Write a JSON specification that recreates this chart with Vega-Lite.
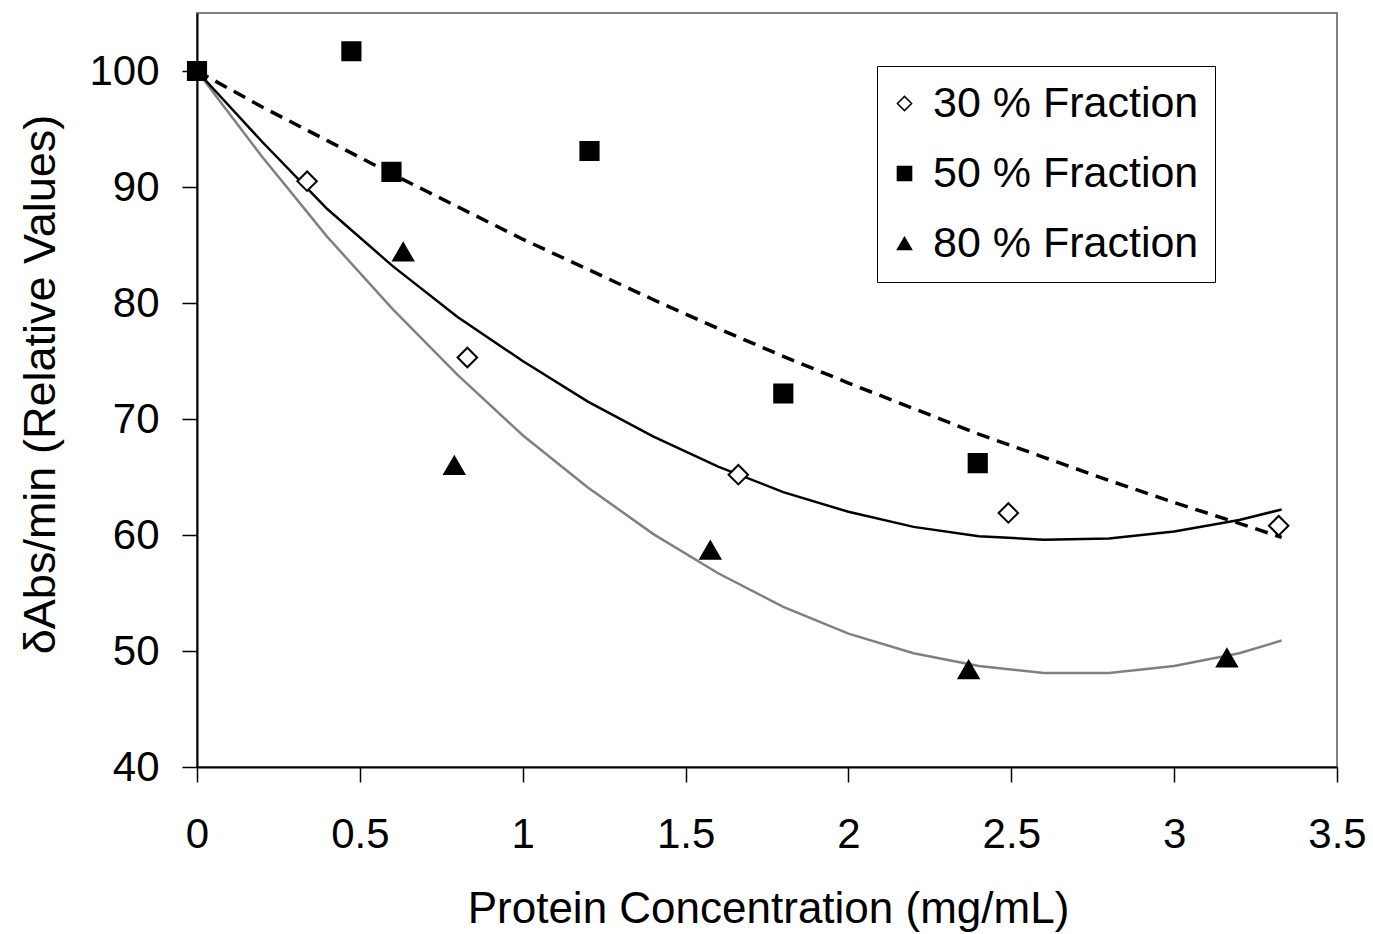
{
  "$schema": "https://vega.github.io/schema/vega-lite/v6.json",
  "width": 1140,
  "height": 754,
  "autosize": {"type": "none"},
  "padding": {"left": 197, "top": 13, "right": 36, "bottom": 167},
  "background": "white",
  "config": {
    "font": "Liberation Sans",
    "view": {"stroke": "#808080", "strokeWidth": 2},
    "axis": {
      "grid": false,
      "domainColor": "black",
      "domainWidth": 2,
      "tickColor": "black",
      "tickWidth": 1.5,
      "tickSize": 15,
      "labelFont": "Liberation Sans",
      "labelFontSize": 42,
      "labelColor": "black",
      "labelFlush": false,
      "labelBound": false,
      "labelOverlap": false,
      "titleFont": "Liberation Sans",
      "titleFontSize": 44,
      "titleFontWeight": "normal",
      "titleColor": "black"
    },
    "legend": {
      "orient": "none",
      "legendX": 680,
      "legendY": 53,
      "padding": 16,
      "rowPadding": 26,
      "labelOffset": 7,
      "symbolOffset": -10,
      "labelFont": "Liberation Sans",
      "labelFontSize": 43,
      "labelColor": "black",
      "labelLimit": 500,
      "strokeColor": "black",
      "fillColor": "white",
      "symbolSize": 200,
      "symbolOpacity": 1
    }
  },
  "datasets": {
    "points": [
      {"series": "30 % Fraction", "conc": 0.338, "rel": 90.5},
      {"series": "30 % Fraction", "conc": 0.83, "rel": 75.3},
      {"series": "30 % Fraction", "conc": 1.662, "rel": 65.2},
      {"series": "30 % Fraction", "conc": 2.491, "rel": 61.9},
      {"series": "30 % Fraction", "conc": 3.321, "rel": 60.8},
      {"series": "50 % Fraction", "conc": 0, "rel": 100},
      {"series": "50 % Fraction", "conc": 0.474, "rel": 101.7},
      {"series": "50 % Fraction", "conc": 0.597, "rel": 91.3},
      {"series": "50 % Fraction", "conc": 1.205, "rel": 93.1},
      {"series": "50 % Fraction", "conc": 1.8, "rel": 72.2},
      {"series": "50 % Fraction", "conc": 2.397, "rel": 66.2},
      {"series": "80 % Fraction", "conc": 0.633, "rel": 84.4},
      {"series": "80 % Fraction", "conc": 0.79, "rel": 66.0},
      {"series": "80 % Fraction", "conc": 1.576, "rel": 58.7},
      {"series": "80 % Fraction", "conc": 2.369, "rel": 48.4},
      {"series": "80 % Fraction", "conc": 3.162, "rel": 49.4}
    ],
    "trends": [
      {"fit": "30", "conc": 0, "rel": 100},
      {"fit": "30", "conc": 0.2, "rel": 93.9},
      {"fit": "30", "conc": 0.4, "rel": 88.1},
      {"fit": "30", "conc": 0.6, "rel": 83.2},
      {"fit": "30", "conc": 0.8, "rel": 78.8},
      {"fit": "30", "conc": 1.0, "rel": 75.0},
      {"fit": "30", "conc": 1.2, "rel": 71.5},
      {"fit": "30", "conc": 1.4, "rel": 68.5},
      {"fit": "30", "conc": 1.6, "rel": 65.9},
      {"fit": "30", "conc": 1.8, "rel": 63.7},
      {"fit": "30", "conc": 2.0, "rel": 62.0},
      {"fit": "30", "conc": 2.2, "rel": 60.7},
      {"fit": "30", "conc": 2.4, "rel": 59.9},
      {"fit": "30", "conc": 2.6, "rel": 59.6},
      {"fit": "30", "conc": 2.8, "rel": 59.7},
      {"fit": "30", "conc": 3.0, "rel": 60.3},
      {"fit": "30", "conc": 3.2, "rel": 61.3},
      {"fit": "30", "conc": 3.33, "rel": 62.2},
      {"fit": "50", "conc": 0, "rel": 100},
      {"fit": "50", "conc": 0.2, "rel": 96.9},
      {"fit": "50", "conc": 0.4, "rel": 94.0},
      {"fit": "50", "conc": 0.6, "rel": 91.1},
      {"fit": "50", "conc": 0.8, "rel": 88.3},
      {"fit": "50", "conc": 1.0, "rel": 85.5},
      {"fit": "50", "conc": 1.2, "rel": 82.9},
      {"fit": "50", "conc": 1.4, "rel": 80.3},
      {"fit": "50", "conc": 1.6, "rel": 77.8},
      {"fit": "50", "conc": 1.8, "rel": 75.4},
      {"fit": "50", "conc": 2.0, "rel": 73.1},
      {"fit": "50", "conc": 2.2, "rel": 70.9},
      {"fit": "50", "conc": 2.4, "rel": 68.7},
      {"fit": "50", "conc": 2.6, "rel": 66.7},
      {"fit": "50", "conc": 2.8, "rel": 64.7},
      {"fit": "50", "conc": 3.0, "rel": 62.8},
      {"fit": "50", "conc": 3.2, "rel": 61.0},
      {"fit": "50", "conc": 3.33, "rel": 59.8},
      {"fit": "80", "conc": 0, "rel": 100},
      {"fit": "80", "conc": 0.2, "rel": 92.6},
      {"fit": "80", "conc": 0.4, "rel": 85.7},
      {"fit": "80", "conc": 0.6, "rel": 79.5},
      {"fit": "80", "conc": 0.8, "rel": 73.8},
      {"fit": "80", "conc": 1.0, "rel": 68.6},
      {"fit": "80", "conc": 1.2, "rel": 64.1},
      {"fit": "80", "conc": 1.4, "rel": 60.1},
      {"fit": "80", "conc": 1.6, "rel": 56.7},
      {"fit": "80", "conc": 1.8, "rel": 53.8},
      {"fit": "80", "conc": 2.0, "rel": 51.5},
      {"fit": "80", "conc": 2.2, "rel": 49.8},
      {"fit": "80", "conc": 2.4, "rel": 48.7},
      {"fit": "80", "conc": 2.6, "rel": 48.1},
      {"fit": "80", "conc": 2.8, "rel": 48.1},
      {"fit": "80", "conc": 3.0, "rel": 48.7},
      {"fit": "80", "conc": 3.2, "rel": 49.8},
      {"fit": "80", "conc": 3.33, "rel": 50.9}
    ]
  },
  "encoding": {
    "x": {
      "field": "conc",
      "type": "quantitative",
      "scale": {"domain": [0, 3.5], "nice": false, "zero": false},
      "axis": {
        "title": "Protein Concentration (mg/mL)",
        "values": [0, 0.5, 1, 1.5, 2, 2.5, 3, 3.5],
        "format": "~f",
        "labelPadding": 32,
        "titleX": 571,
        "titleY": 155,
        "titleBaseline": "alphabetic",
        "titleAlign": "center"
      }
    },
    "y": {
      "field": "rel",
      "type": "quantitative",
      "scale": {"domain": [40, 105], "nice": false, "zero": false},
      "axis": {
        "title": "δAbs/min (Relative Values)",
        "values": [40, 50, 60, 70, 80, 90, 100],
        "format": "d",
        "labelPadding": 23,
        "titleAngle": -90,
        "titleFontSize": 45,
        "titleX": -157,
        "titleY": 371,
        "titleBaseline": "middle",
        "titleAlign": "center"
      }
    }
  },
  "layer": [
    {
      "data": {"name": "trends"},
      "transform": [{"filter": "datum.fit === '80'"}],
      "mark": {"type": "line", "stroke": "#808080", "strokeWidth": 2.5},
      "encoding": {}
    },
    {
      "data": {"name": "trends"},
      "transform": [{"filter": "datum.fit === '30'"}],
      "mark": {"type": "line", "stroke": "black", "strokeWidth": 2.5},
      "encoding": {}
    },
    {
      "data": {"name": "trends"},
      "transform": [{"filter": "datum.fit === '50'"}],
      "mark": {"type": "line", "stroke": "black", "strokeWidth": 3.5, "strokeDash": [13, 8], "strokeCap": "butt"},
      "encoding": {}
    },
    {
      "data": {"name": "points"},
      "transform": [{"filter": "datum.series === '30 % Fraction'"}],
      "mark": {"type": "point", "filled": true, "opacity": 1, "stroke": "black", "strokeWidth": 2, "size": 380},
      "encoding": {
        "shape": {
          "field": "series",
          "type": "nominal",
          "scale": {"domain": ["30 % Fraction", "50 % Fraction", "80 % Fraction"], "range": ["diamond", "square", "triangle-up"]},
          "legend": {
            "title": null,
            "encode": {"symbols": {"update": {"stroke": {"value": "black"}, "strokeWidth": {"value": 2}, "opacity": {"value": 1}}}}
          }
        },
        "fill": {
          "field": "series",
          "type": "nominal",
          "scale": {"domain": ["30 % Fraction", "50 % Fraction", "80 % Fraction"], "range": ["white", "black", "black"]},
          "legend": {
            "title": null,
            "encode": {"symbols": {"update": {"stroke": {"value": "black"}, "strokeWidth": {"value": 2}, "opacity": {"value": 1}}}}
          }
        }
      }
    },
    {
      "data": {"name": "points"},
      "transform": [{"filter": "datum.series === '50 % Fraction'"}],
      "mark": {"type": "point", "filled": true, "opacity": 1, "stroke": "black", "strokeWidth": 2, "size": 330},
      "encoding": {
        "shape": {"field": "series", "type": "nominal"},
        "fill": {"field": "series", "type": "nominal"}
      }
    },
    {
      "data": {"name": "points"},
      "transform": [{"filter": "datum.series === '80 % Fraction'"}],
      "mark": {"type": "point", "filled": true, "opacity": 1, "stroke": "black", "strokeWidth": 2, "size": 400},
      "encoding": {
        "shape": {"field": "series", "type": "nominal"},
        "fill": {"field": "series", "type": "nominal"}
      }
    }
  ]
}
